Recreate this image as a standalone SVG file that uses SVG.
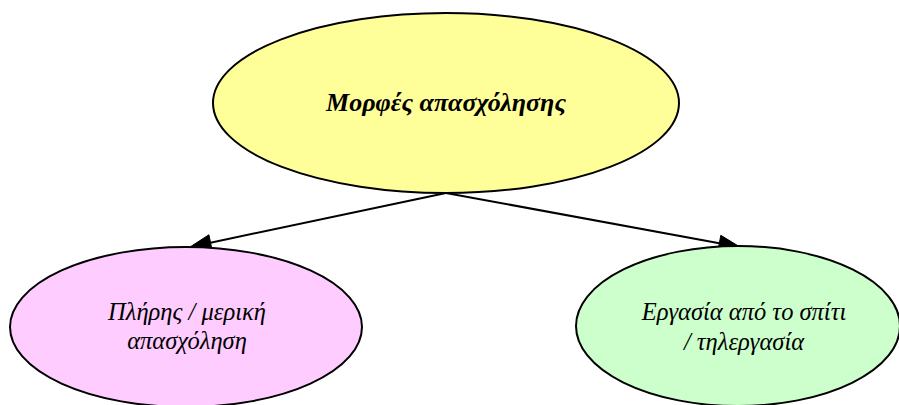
<svg xmlns="http://www.w3.org/2000/svg" width="899" height="405" viewBox="0 0 899 405">
<style>
.node ellipse{stroke:#000;stroke-width:2}
text{font-family:"Liberation Serif","DejaVu Serif",serif;font-style:italic;text-anchor:middle;fill:#000}
.t{font-size:26px;font-weight:bold}
.s{font-size:24.5px}
.edge{stroke:#000;stroke-width:2;fill:none}
.head{fill:#000;stroke:#000;stroke-width:1}
</style>
<rect width="899" height="405" fill="#fff"/>
<g id="connectors">
<line class="edge" x1="446" y1="193" x2="210.5" y2="242.7"/>
<polygon class="head" points="190,247 212.2,250.5 208.9,234.8"/>
<line class="edge" x1="446" y1="193" x2="719.3" y2="243.2"/>
<polygon class="head" points="740,247 717.9,251.1 720.8,235.3"/>
</g>
<g id="n1" class="node">
<ellipse cx="446" cy="103" rx="233" ry="90" fill="#FFFF99"/>
<text class="t" x="446" y="111">Μορφές απασχόλησης</text>
</g>
<g id="n2" class="node">
<ellipse cx="186" cy="327" rx="176" ry="80" fill="#FFCCFF"/>
<text class="s" x="187" y="320">Πλήρης / μερική</text>
<text class="s" x="187" y="349">απασχόληση</text>
</g>
<g id="n3" class="node">
<ellipse cx="738" cy="326" rx="162" ry="80" fill="#CCFFCC"/>
<text class="s" x="744" y="320">Εργασία από το σπίτι</text>
<text class="s" x="744" y="350">/ τηλεργασία</text>
</g>
</svg>
